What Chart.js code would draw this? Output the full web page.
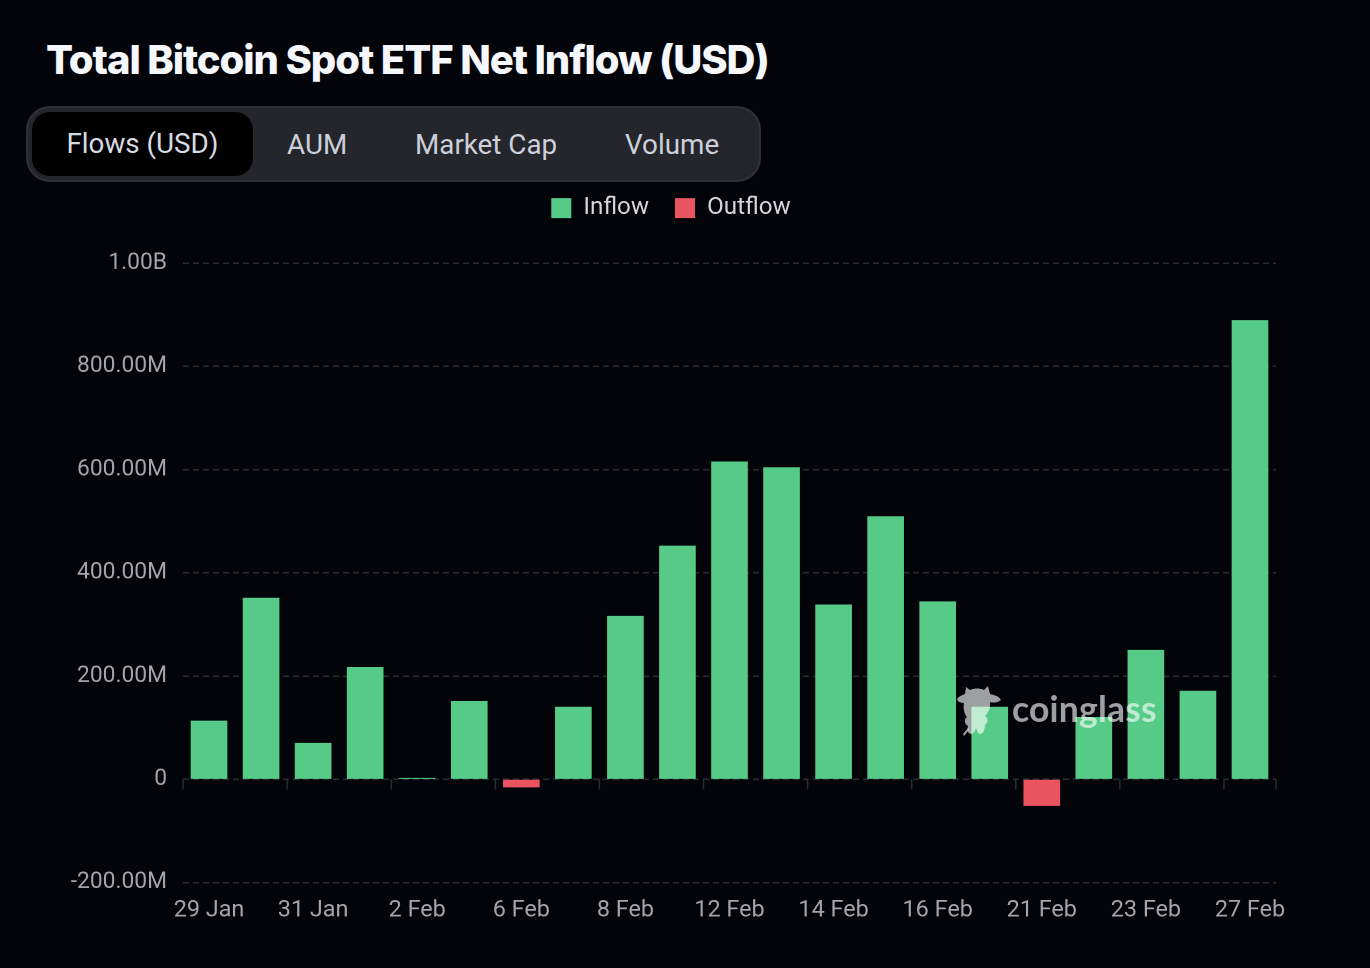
<!DOCTYPE html>
<html>
<head>
<meta charset="utf-8">
<script src="https://cdn.jsdelivr.net/npm/chart.js@4"></script>
<style>
  html, body { margin: 0; padding: 0; background: #02040a; }
  body { width: 1370px; height: 968px; position: relative; overflow: hidden; font-family: Roboto, "Noto Sans", sans-serif; }
  h1 { position: absolute; left: 46px; top: 35px; margin: 0; font: 800 40px/50px Inter, sans-serif; letter-spacing: -1.08px; color: #f5f7fb; white-space: nowrap; }
  .tabs { position: absolute; left: 26px; top: 106px; width: 735px; height: 76px; box-sizing: border-box; background: #24262b; border: 2px solid #2f3135; border-radius: 24px; }
  .tabs span { position: absolute; top: 0; height: 72px; line-height: 73px; font-size: 27.8px; color: #ccd0da; white-space: nowrap; }
  .tabs .active { left: 4px; top: 4px; width: 221px; height: 64px; line-height: 64px; background: #000; border-radius: 18px; text-align: center; color: #d8dbe2; }
  #wrap { position: absolute; left: 66px; top: 163px; width: 1270px; height: 805px; }
  .mark { position: absolute; left: 955px; top: 684px; width: 210px; height: 56px; color: rgba(255,255,255,0.62); pointer-events: none; }
  .mark svg { position: absolute; left: 0; top: 0; }
  .mark b { position: absolute; left: 57px; top: 0; font: 700 35.5px/50px Lato, sans-serif; letter-spacing: 0.2px; }
</style>
</head>
<body>
<h1>Total Bitcoin Spot ETF Net Inflow (USD)</h1>
<div class="tabs">
  <span class="active">Flows (USD)</span>
  <span style="left:259px">AUM</span>
  <span style="left:387px">Market Cap</span>
  <span style="left:597px">Volume</span>
</div>
<div id="wrap"><canvas id="chart" width="1270" height="805"></canvas></div>
<div class="mark">
  <svg width="50" height="54" viewBox="0 0 50 54" fill="currentColor">
    <path d="M2 15 C4 12 8 11 10 10 L11 3 L15 6 C19 4 25 4 29 6 L33 2 L35 10 C39 11 44 12 46 16 C42 19 38 19 35 18 C36 24 33 29 30 32 C33 34 34 38 30 41 C30 46 28 50 25 50 C23 50 22 47 21 44 C20 47 19 50 16 50 C13 50 12 46 13 42 C9 40 9 35 12 33 C9 30 8 24 9 19 C6 19 3 18 2 15 Z"/>
    <path d="M8 50 L13 44 L14 46 L9 52 Z"/>
  </svg>
  <b>coinglass</b>
</div>
<script>
// dados (milhões USD)
const dates = ["29 Jan", "30 Jan", "31 Jan", "1 Feb", "2 Feb", "5 Feb", "6 Feb", "7 Feb", "8 Feb", "9 Feb", "12 Feb", "13 Feb", "14 Feb", "15 Feb", "16 Feb", "20 Feb", "21 Feb", "22 Feb", "23 Feb", "26 Feb", "27 Feb"];
const inflow = [113, 351, 70, 217, 2, 151, null, 140, 316, 452, 615, 604, 338, 509, 344, 140, null, 120, 250, 171, 889];
const outflow = [null, null, null, null, null, null, -15, null, null, null, null, null, null, null, null, null, -51, null, null, null, null];

const GREEN = "#56ca87";
const RED = "#ea5461";
const TEXT = "#a3a5a9";
const GRID = "#2a2c30";

function formatValue(v) {
  if (v === 0) return "0";
  if (v === 1000) return "1.00B";
  return v.toFixed(2) + "M";
}

// marcas do eixo x na linha do zero, a cada 2 categorias
const zeroTicks = {
  id: "zeroTicks",
  afterDatasetsDraw(chart) {
    const { ctx, scales } = chart;
    const y0 = scales.y.getPixelForValue(0);
    const last = dates.length;
    ctx.save();
    ctx.strokeStyle = GRID;
    ctx.lineWidth = 1.5;
    for (let i = 0; i <= last; i += 2) {
      const x = scales.x.getPixelForValue(i - 0.5);
      ctx.beginPath();
      ctx.moveTo(x, y0);
      ctx.lineTo(x, y0 + 10);
      ctx.stroke();
    }
    const xEnd = scales.x.getPixelForValue(last - 0.5);
    ctx.beginPath();
    ctx.moveTo(xEnd, y0);
    ctx.lineTo(xEnd, y0 + 10);
    ctx.stroke();
    ctx.restore();
  },
};

// espaço extra entre a legenda e o gráfico
const legendGap = {
  id: "legendGap",
  beforeInit(chart) {
    const fit = chart.legend.fit;
    chart.legend.fit = function () {
      fit.call(this);
      this.height += 33;
    };
  },
};

new Chart(document.getElementById("chart"), {
  type: "bar",
  plugins: [zeroTicks, legendGap],
  data: {
    labels: dates,
    datasets: [
      { label: "Inflow", data: inflow, backgroundColor: GREEN, barThickness: 36 },
      { label: "Outflow", data: outflow, backgroundColor: RED, barThickness: 36 },
    ],
  },
  options: {
    responsive: false,
    animation: false,
    devicePixelRatio: 2,
    // a legenda fica centrada em x=671 com a área a acabar em x=1276
    layout: { padding: { top: 7, right: 60, left: 0, bottom: 0 } },
    plugins: {
      tooltip: { enabled: false },
      legend: {
        position: "top",
        labels: {
          color: "#d4d7de",
          font: { family: "Roboto", size: 24.2 },
          boxWidth: 20,
          boxHeight: 20,
          padding: 26,
        },
      },
    },
    scales: {
      x: {
        stacked: true,
        afterFit(scale) { scale.height = 85.5; },
        grid: { display: false },
        border: { display: false },
        ticks: {
          color: TEXT,
          font: { family: "Roboto", size: 23.4 },
          autoSkip: false,
          maxRotation: 0,
          padding: 6,
          callback(value, index) { return index % 2 === 0 ? dates[index] : ""; },
        },
      },
      y: {
        stacked: true,
        min: -200,
        max: 1000,
        afterFit(scale) { scale.width = 117; },
        grid: { color: GRID, lineWidth: 1.5, drawTicks: false },
        border: { display: false, dash: [6, 4] },
        ticks: {
          color: TEXT,
          font: { family: "Roboto", size: 22.8 },
          stepSize: 200,
          padding: 16,
          callback: formatValue,
        },
      },
    },
  },
});
</script>
</body>
</html>
